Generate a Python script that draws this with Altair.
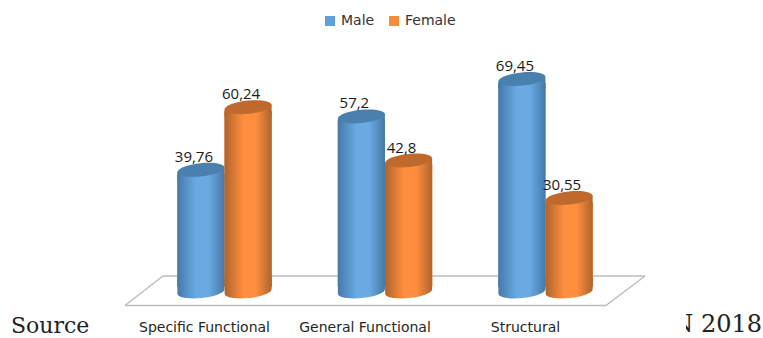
import altair as alt
import pandas as pd

categories = ["Specific Functional", "General Functional", "Structural"]
male_values = [39.76, 57.2, 69.45]
female_values = [60.24, 42.8, 30.55]
series_names = ["Male", "Female"]
series_colors = ["#5f9fdc", "#f58b3c"]

rows = []
for cat, m, f in zip(categories, male_values, female_values):
    rows.append({"category": cat, "series": "Male", "value": m})
    rows.append({"category": cat, "series": "Female", "value": f})
df = pd.DataFrame(rows)
df["label"] = df["value"].map(lambda v: f"{v:g}".replace(".", ","))
df["zero"] = 0
# The straight part of a cylinder starts a little above the axis zero; the
# rounded foot symbol fills the remainder
df["body_start"] = 1.6

W, H = 763, 338

x_enc = alt.X("category:N", sort=categories, axis=None,
              scale=alt.Scale(domain=categories, range=[144.25, 625.75],
                              paddingInner=0, paddingOuter=0))
off_enc = alt.XOffset("series:N", sort=series_names,
                      scale=alt.Scale(domain=series_names, paddingInner=0, paddingOuter=0.7))
y_scale = alt.Scale(domain=[-15.2, 95.26], nice=False)
y_enc = alt.Y("value:Q", axis=None, scale=y_scale)
y2_enc = alt.Y2("body_start:Q")

# Symbol paths in the -1..1 box: the tilted top ellipse, the rounded foot of a
# cylinder, and the wedge joining the flat bar body to the tilted ellipse
ELLIPSE = "M-1,0.1A1.005,0.28,-6,1,1,1,-0.1A1.005,0.28,-6,1,1,-1,0.1Z"
FOOT = "M-1,-0.6L1,-0.6L1,-0.1A1.005,0.28,-6,1,1,-1,0.1Z"
SHOULDER = "M-1,0.1L1,-0.1L1,0.4L-1,0.4Z"
CAP_SIZE = 47 ** 2


def side_gradient(edge, mid):
    return alt.Gradient(
        gradient="linear", x1=0, x2=1, y1=0, y2=0,
        stops=[
            alt.GradientStop(offset=0, color=edge),
            alt.GradientStop(offset=0.4, color=mid),
            alt.GradientStop(offset=0.66, color=mid),
            alt.GradientStop(offset=1, color=edge),
        ],
    )


def cylinder(name, edge, mid, cap):
    src = alt.Chart(df).transform_filter(alt.datum.series == name)
    grad = side_gradient(edge, mid)
    symbol = dict(size=CAP_SIZE, filled=True, opacity=1, strokeWidth=0)
    body = src.mark_bar(fill=grad, strokeWidth=0, yOffset=4).encode(
        x=x_enc, xOffset=off_enc, y=y_enc, y2=y2_enc
    )
    foot = src.mark_point(shape=FOOT, fill=grad, **symbol).encode(
        x=x_enc, xOffset=off_enc, y=alt.Y("zero:Q", axis=None, scale=y_scale)
    )
    shoulder = src.mark_point(shape=SHOULDER, fill=grad, **symbol).encode(
        x=x_enc, xOffset=off_enc, y=y_enc
    )
    top = src.mark_point(shape=ELLIPSE, fill=cap, **symbol).encode(
        x=x_enc, xOffset=off_enc, y=y_enc
    )
    return [foot, body, shoulder, top]


one_row = alt.Chart(df).transform_filter(alt.datum.value == 30.55)


def floor_edge(x0, y0, x1, y1):
    return one_row.mark_rule(color="#bdbdbd", strokeWidth=1.5).encode(
        x=alt.value(x0), x2=alt.value(x1), y=alt.value(y0), y2=alt.value(y1)
    )


floor = [
    floor_edge(125, 305.5, 606, 305.5),
    floor_edge(163, 276, 645, 276),
    floor_edge(125, 305.5, 163, 276),
    floor_edge(606, 305.5, 645, 276),
]

# Flat bars carry the legend; the shaded cylinders are drawn on top of them
flat = alt.Chart(df).mark_bar(strokeWidth=0, yOffset=4).encode(
    x=x_enc, xOffset=off_enc, y=y_enc, y2=y2_enc,
    color=alt.Color(
        "series:N", sort=series_names,
        scale=alt.Scale(domain=series_names, range=series_colors),
        legend=alt.Legend(
            title=None, orient="none", legendX=323, legendY=14, direction="horizontal",
            columns=2, columnPadding=12, symbolType="square", symbolSize=100,
            symbolStrokeWidth=0, labelFont="DejaVu Sans", labelFontSize=14,
            labelColor="#333333", labelOffset=4,
        ),
    ),
)

value_labels = alt.Chart(df).mark_text(
    font="Open Sans", fontSize=15, color="#1a1a1a", dx=-7, dy=-13, baseline="middle"
).encode(x=x_enc, xOffset=off_enc, y=y_enc, text="label:N")

category_labels = alt.Chart(df).transform_filter(alt.datum.series == "Male").mark_text(
    font="DejaVu Sans", fontSize=14, color="#262626", dx=-20, baseline="middle"
).encode(x=x_enc, y=alt.value(328), text="category:N")

source_left = one_row.mark_text(
    text="Source", font="DejaVu Serif", fontSize=22, color="#222222", align="left", baseline="alphabetic"
).encode(x=alt.value(11), y=alt.value(333))

source_right = one_row.mark_text(
    text="N 2018", font="DejaVu Serif", fontSize=24, color="#222222", align="right", baseline="alphabetic"
).encode(x=alt.value(762), y=alt.value(332))

# White panel that hides the left part of the trailing caption
mask = one_row.mark_bar(color="white", strokeWidth=0).encode(
    x=alt.value(640), x2=alt.value(686), y=alt.value(310), y2=alt.value(338)
)

chart = alt.layer(
    source_left, source_right, mask,
    *floor,
    flat,
    *cylinder("Male", "#4679a8", "#6aaae4", "#4a80ae"),
    *cylinder("Female", "#b0642c", "#ff8e3e", "#bf6a2c"),
    value_labels,
    category_labels,
).properties(
    width=W, height=H, padding=0, autosize=alt.AutoSizeParams(type="none"),
).configure_view(stroke=None)

chart.save("out.html", embed_options={"renderer": "svg", "actions": False})
